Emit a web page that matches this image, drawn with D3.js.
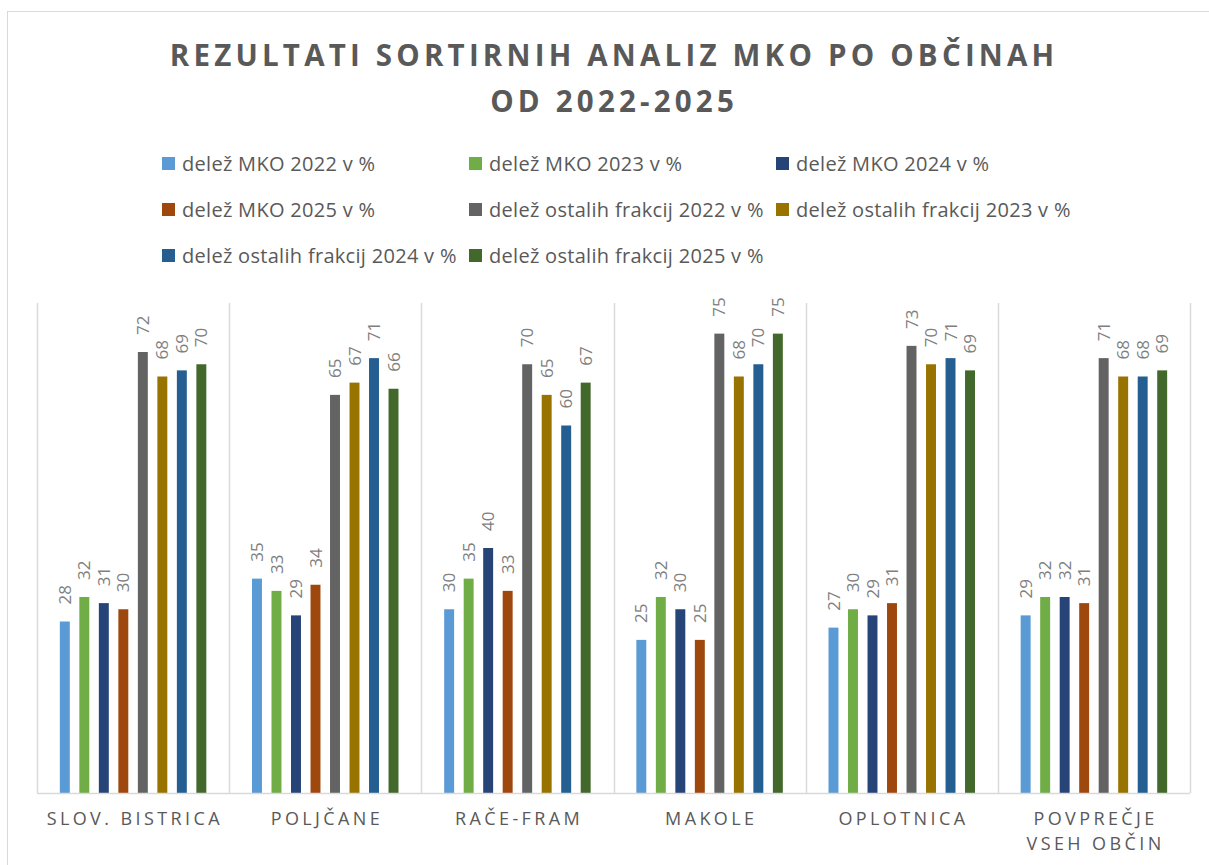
<!DOCTYPE html>
<html>
<head>
<meta charset="utf-8">
<script src="https://cdn.jsdelivr.net/npm/d3@7"></script>
<style>
  html, body { margin: 0; padding: 0; background: #ffffff; }
  svg { display: block; }
</style>
</head>
<body>
<svg id="chart" width="1209" height="865"></svg>
<script>
// Municipalities on the category axis
const categories = ["SLOV. BISTRICA", "POLJČANE", "RAČE-FRAM", "MAKOLE", "OPLOTNICA", "POVPREČJE VSEH OBČIN"];

// Series names (legend order)
const seriesNames = [
  "delež MKO 2022 v %",
  "delež MKO 2023 v %",
  "delež MKO 2024 v %",
  "delež MKO 2025 v %",
  "delež ostalih frakcij 2022 v %",
  "delež ostalih frakcij 2023 v %",
  "delež ostalih frakcij 2024 v %",
  "delež ostalih frakcij 2025 v %"
];

// Shares per municipality, in %
const mko2022 = [28, 35, 30, 25, 27, 29];
const mko2023 = [32, 33, 35, 32, 30, 32];
const mko2024 = [31, 29, 40, 30, 29, 32];
const mko2025 = [30, 34, 33, 25, 31, 31];
const ostalo2022 = [72, 65, 70, 75, 73, 71];
const ostalo2023 = [68, 67, 65, 68, 70, 68];
const ostalo2024 = [69, 71, 60, 70, 71, 68];
const ostalo2025 = [70, 66, 67, 75, 69, 69];

const seriesValues = [mko2022, mko2023, mko2024, mko2025, ostalo2022, ostalo2023, ostalo2024, ostalo2025];

const colors = ["#5B9BD5", "#70AD47", "#264478", "#9E480E", "#636363", "#997300", "#255E91", "#43682B"];

const yMax = 80;

const svg = d3.select("#chart");
const FONT = "'Open Sans', 'Noto Sans', 'DejaVu Sans', sans-serif";
const TEXT = "#595959";

// chart frame
svg.append("rect")
  .attr("x", 7.5).attr("y", 11.5)
  .attr("width", 1230).attr("height", 900)
  .attr("fill", "#ffffff")
  .attr("stroke", "#d9d9d9").attr("stroke-width", 1);

// plot area
const plot = { left: 37, right: 1190, top: 303, bottom: 793 };

const x0 = d3.scaleBand()
  .domain(categories)
  .range([plot.left, plot.right])
  .paddingInner(0).paddingOuter(0);

const cw = x0.bandwidth();
const x1 = d3.scaleBand()
  .domain(d3.range(seriesNames.length))
  .range([cw * 0.094, cw * 0.906])
  .paddingInner(0.49)
  .paddingOuter(0.245);

const y = d3.scaleLinear().domain([0, yMax]).range([plot.bottom, plot.top]);

// vertical separators between categories
const bounds = categories.map(c => x0(c)).concat([plot.right]);
svg.append("g").selectAll("line")
  .data(bounds)
  .join("line")
  .attr("x1", d => Math.round(d) + 0.5).attr("x2", d => Math.round(d) + 0.5)
  .attr("y1", plot.top).attr("y2", plot.bottom)
  .attr("stroke", "#d9d9d9").attr("stroke-width", 1.5);

// bars
const rows = [];
categories.forEach((c, ci) => {
  seriesValues.forEach((vals, si) => {
    rows.push({ cat: c, s: si, v: vals[ci] });
  });
});

const g = svg.append("g");
g.selectAll("rect.bar")
  .data(rows)
  .join("rect")
  .attr("class", "bar")
  .attr("x", d => x0(d.cat) + x1(d.s))
  .attr("y", d => y(d.v))
  .attr("width", x1.bandwidth())
  .attr("height", d => y(0) - y(d.v))
  .attr("fill", d => colors[d.s]);

// value labels, rotated
g.selectAll("text.val")
  .data(rows)
  .join("text")
  .attr("class", "val")
  .attr("transform", d => {
    const cx = x0(d.cat) + x1(d.s) + x1.bandwidth() / 2;
    return `translate(${cx},${y(d.v) - 17}) rotate(-90)`;
  })
  .attr("dy", "0.36em")
  .attr("text-anchor", "start")
  .attr("font-family", FONT)
  .attr("font-size", 17)
  .attr("fill", "#7f7f7f")
  .text(d => d.v);

// baseline
svg.append("line")
  .attr("x1", plot.left).attr("x2", plot.right)
  .attr("y1", plot.bottom + 0.5).attr("y2", plot.bottom + 0.5)
  .attr("stroke", "#d9d9d9").attr("stroke-width", 1.5);

// category labels (wrapped at word boundary for the long one)
const catSpacing = 3.4;
const catG = svg.append("g");
categories.forEach(c => {
  const cx = x0(c) + cw / 2 + catSpacing / 2;
  const lines = c.length > 16 ? [c.split(" ")[0], c.split(" ").slice(1).join(" ")] : [c];
  const t = catG.append("text")
    .attr("text-anchor", "middle")
    .attr("font-family", FONT)
    .attr("font-size", 18)
    .attr("letter-spacing", catSpacing)
    .attr("fill", TEXT);
  lines.forEach((ln, i) => {
    t.append("tspan").attr("x", cx).attr("y", 825 + i * 25).text(ln);
  });
});

// title
const titleLines = ["REZULTATI SORTIRNIH ANALIZ MKO PO OBČINAH", "OD 2022-2025"];
const titleSpacing = 4.2;
titleLines.forEach((t, i) => {
  svg.append("text")
    .attr("x", 612 + titleSpacing / 2)
    .attr("y", 66 + i * 46)
    .attr("text-anchor", "middle")
    .attr("font-family", FONT)
    .attr("font-weight", "bold")
    .attr("font-size", 29.5)
    .attr("letter-spacing", titleSpacing)
    .attr("fill", TEXT)
    .text(t);
});

// legend: 3 columns
const legG = svg.append("g");
seriesNames.forEach((name, i) => {
  const col = i % 3, row = Math.floor(i / 3);
  const lx = 162 + col * 307;
  const ly = 164 + row * 46;
  legG.append("rect")
    .attr("x", lx).attr("y", ly - 7)
    .attr("width", 13).attr("height", 13)
    .attr("fill", colors[i]);
  legG.append("text")
    .attr("x", lx + 20).attr("y", ly + 7)
    .attr("font-family", FONT)
    .attr("font-size", 20)
    .attr("letter-spacing", 0.3)
    .attr("fill", TEXT)
    .text(name);
});
</script>
</body>
</html>
